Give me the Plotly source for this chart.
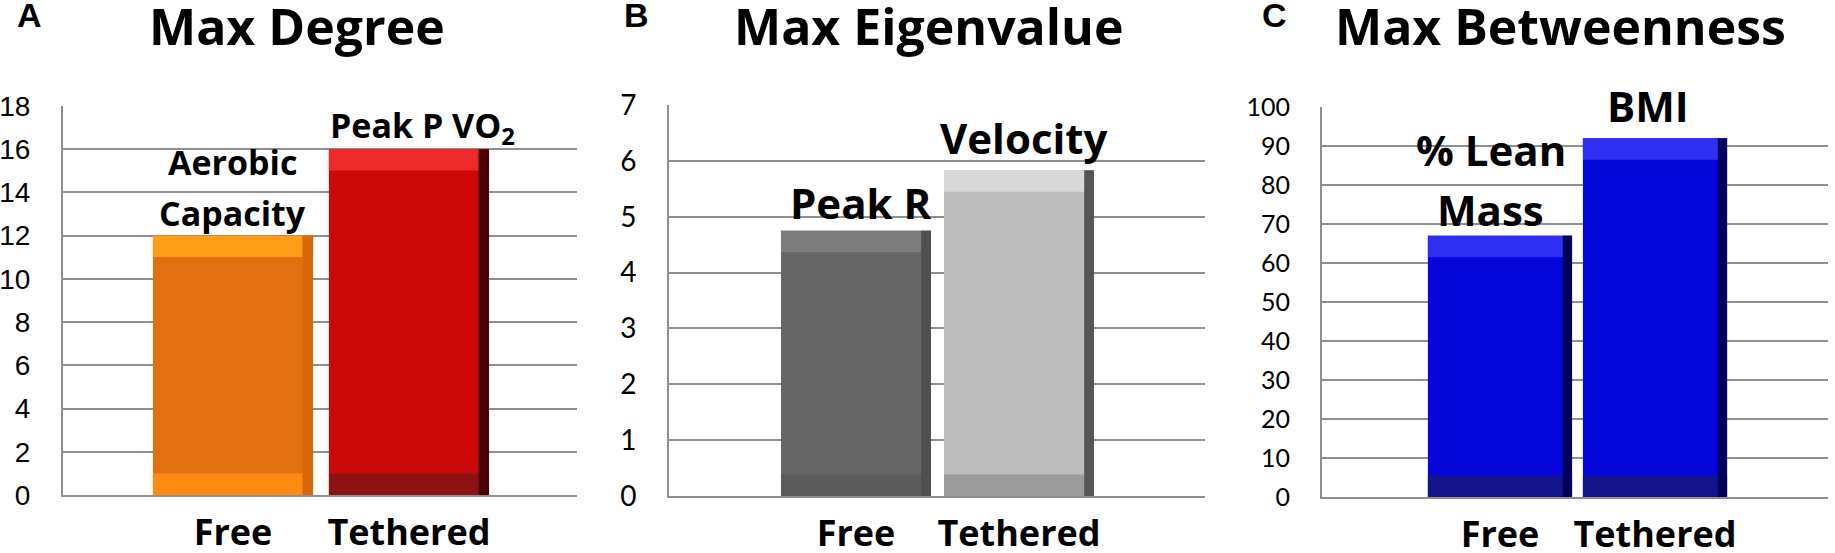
import plotly.graph_objects as go

# ---- data ----
categories = ["Free", "Tethered"]

degree_values = [12, 16]
eigen_values = [4.75, 5.83]
betweenness_values = [67, 92]

degree_labels = [["Aerobic", "Capacity"], ["Peak P VO<sub>2</sub>"]]
eigen_labels = [["Peak R"], ["Velocity"]]
betweenness_labels = [["% Lean", "Mass"], ["BMI"]]

degree_ticks = [0, 2, 4, 6, 8, 10, 12, 14, 16, 18]
eigen_ticks = [0, 1, 2, 3, 4, 5, 6, 7]
betweenness_ticks = [0, 10, 20, 30, 40, 50, 60, 70, 80, 90, 100]

panel_titles = ["Max Degree", "Max Eigenvalue", "Max Betweenness"]
panel_letters = ["A", "B", "C"]

W, H = 1835, 553
GRID = "#8e8e8e"
BOLD_FONT = "Open Sans"

# bar colours: face, top bevel, bottom bevel, right edge
orange = dict(face="#e3700e", top="#ff9c18", bottom="#ff8a12", side="#d8680c")
red = dict(face="#cc0909", top="#ee2a2a", bottom="#8e1212", side="#4a0000")
dark_grey = dict(face="#666666", top="#7c7c7c", bottom="#5a5a5a", side="#505050")
light_grey = dict(face="#bdbdbd", top="#d9d9d9", bottom="#9c9c9c", side="#555555")
blue = dict(face="#0707dc", top="#2f2ff2", bottom="#14148c", side="#00005a")

panels = [
    dict(values=degree_values, labels=degree_labels, ticks=degree_ticks,
         colors=[orange, red], xdom=(63, 577), ydom=(106, 495),
         xrange=[-0.966, 1.955], width=0.91, tickfont="Liberation Sans", ticksize=28,
         labelsize=34, label_shift=[-2, -5], line_gap=51, xshift=[0, 14],
         title_x=297, letter_x=29),
    dict(values=eigen_values, labels=eigen_labels, ticks=eigen_ticks,
         colors=[dark_grey, light_grey], xdom=(669, 1205), ydom=(105, 496),
         xrange=[-1.147, 2.141], width=0.92, tickfont="Lato", ticksize=28,
         labelsize=42, label_shift=[-2, 2], line_gap=62, xshift=[5, 5],
         title_x=928, letter_x=636),
    dict(values=betweenness_values, labels=betweenness_labels, ticks=betweenness_ticks,
         colors=[blue, blue], xdom=(1322, 1828), ydom=(107, 497),
         xrange=[-1.148, 2.116], width=0.93, tickfont="Lato", ticksize=25,
         labelsize=42, label_shift=[-4, 2], line_gap=60, xshift=[-9, -7],
         title_x=1560, letter_x=1274),
]

fig = go.Figure()
annotations = []

for i, p in enumerate(panels):
    n = "" if i == 0 else str(i + 1)
    xa, ya = "x" + n, "y" + n
    vals = p["values"]
    ymax = p["ticks"][-1]
    band = 0.055 * ymax  # bevel depth in data units
    w = p["width"]
    edge = 0.06

    faces = [c["face"] for c in p["colors"]]
    tops = [c["top"] for c in p["colors"]]
    bottoms = [c["bottom"] for c in p["colors"]]
    sides = [c["side"] for c in p["colors"]]

    # main face
    fig.add_trace(go.Bar(x=[0, 1], y=vals, width=w, marker_color=faces,
                         marker_line_width=0, xaxis=xa, yaxis=ya, showlegend=False))
    # bottom bevel
    fig.add_trace(go.Bar(x=[0, 1], y=[band, band], base=[0, 0], width=w,
                         marker_color=bottoms, marker_line_width=0,
                         xaxis=xa, yaxis=ya, showlegend=False))
    # top bevel
    fig.add_trace(go.Bar(x=[0, 1], y=[band, band], base=[v - band for v in vals], width=w,
                         marker_color=tops, marker_line_width=0,
                         xaxis=xa, yaxis=ya, showlegend=False))
    # right-hand shadow edge
    fig.add_trace(go.Bar(x=[0, 1], y=vals, width=edge, offset=w / 2 - edge,
                         marker_color=sides, marker_line_width=0,
                         xaxis=xa, yaxis=ya, showlegend=False))

    x0, x1 = p["xdom"]
    ytop, ybot = p["ydom"]
    axis_x = dict(domain=[x0 / W, x1 / W], range=p["xrange"], tickvals=[0, 1],
                  ticktext=categories, showgrid=False, zeroline=False,
                  showline=True, linecolor=GRID, linewidth=2, ticks="",
                  tickfont=dict(family=BOLD_FONT, size=36, color="black", weight="bold"),
                  ticklabelstandoff=5, anchor=ya, fixedrange=True, automargin=False)
    axis_y = dict(domain=[1 - ybot / H, 1 - ytop / H], range=[0, ymax],
                  tickvals=p["ticks"], showgrid=True, gridcolor=GRID, gridwidth=2,
                  zeroline=False, showline=True, linecolor=GRID, linewidth=2,
                  ticks="", tickfont=dict(family=p["tickfont"], size=p["ticksize"], color="black"),
                  ticklabelstandoff=25, anchor=xa, fixedrange=True, automargin=False)
    fig.update_layout({"xaxis" + n: axis_x, "yaxis" + n: axis_y})

    # labels above the bars, one annotation per line so the spacing can match
    for j, lines in enumerate(p["labels"]):
        s = p["labelsize"]
        for k, line in enumerate(reversed(lines)):
            annotations.append(dict(x=j, y=vals[j], xref=xa, yref=ya, text=line,
                                    showarrow=False, yanchor="bottom",
                                    yshift=p["label_shift"][j] + k * p["line_gap"],
                                    xshift=p["xshift"][j],
                                    font=dict(family=BOLD_FONT, size=s, color="black",
                                              weight="bold")))

    # panel title and letter
    annotations.append(dict(x=p["title_x"] / W, y=1 - 62 / H, xref="paper", yref="paper",
                            text=panel_titles[i], showarrow=False,
                            xanchor="center", yanchor="bottom",
                            font=dict(family=BOLD_FONT, size=50, color="black", weight="bold")))
    annotations.append(dict(x=p["letter_x"] / W, y=1 - 36 / H, xref="paper", yref="paper",
                            text=panel_letters[i], showarrow=False,
                            xanchor="center", yanchor="bottom",
                            font=dict(family="Liberation Sans", size=34, color="black",
                                      weight="bold")))

fig.update_layout(
    width=W, height=H,
    margin=dict(l=0, r=0, t=0, b=0),
    barmode="overlay",
    paper_bgcolor="white",
    plot_bgcolor="white",
    annotations=annotations,
)

# drop the browser's default 8px page margin so the figure fills the window
fig.write_html("out.html", config={"displayModeBar": False},
               post_script="document.body.style.margin='0';document.body.style.overflow='hidden';")
